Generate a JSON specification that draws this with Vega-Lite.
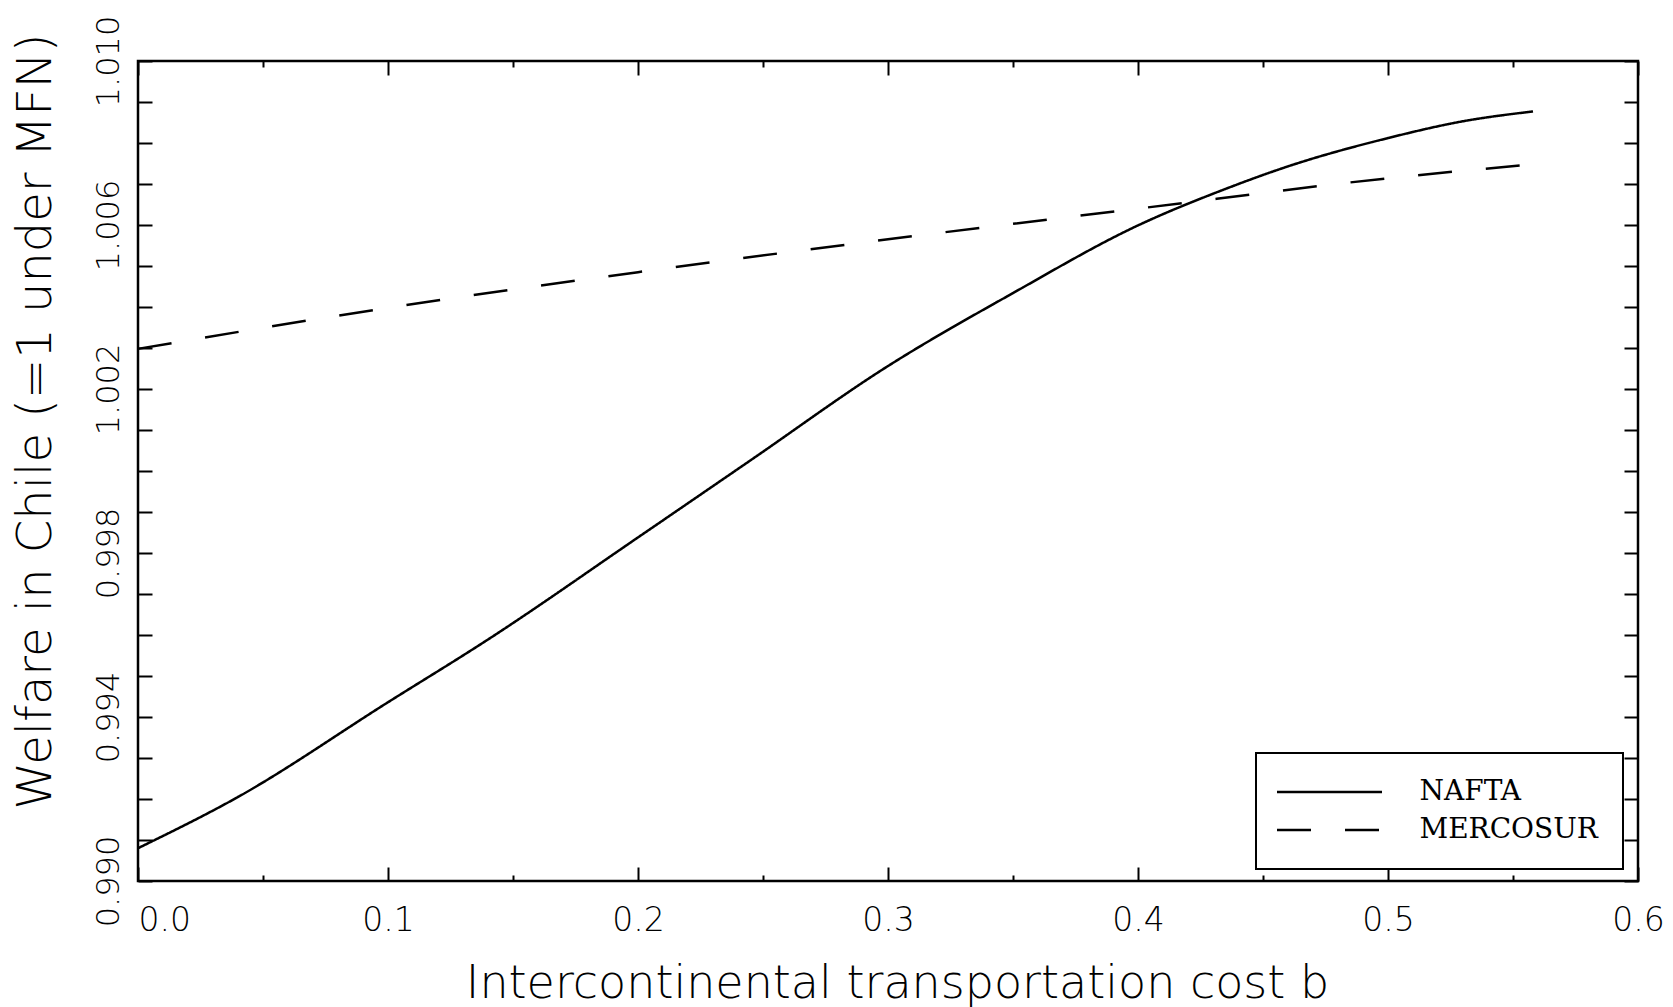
{
  "$schema": "https://vega.github.io/schema/vega-lite/v6.json",
  "width": 1500,
  "height": 820,
  "autosize": "none",
  "padding": {"left": 138, "top": 61, "right": 35, "bottom": 126},
  "background": "white",
  "config": {
    "view": {"stroke": "black", "strokeWidth": 2.5},
    "font": "DejaVu Sans",
    "axis": {
      "domain": false,
      "grid": false,
      "tickColor": "black",
      "tickWidth": 2,
      "labelColor": "black",
      "titleColor": "black",
      "labelFont": "DejaVu Sans",
      "titleFont": "DejaVu Sans",
      "labelFontWeight": 200,
      "titleFontWeight": 200,
      "labelOverlap": false,
      "labelBound": false
    }
  },
  "datasets": {
    "curves": [
      {"b": 0.0, "welfare": 0.9908, "agreement": "NAFTA"},
      {"b": 0.04, "welfare": 0.99205, "agreement": "NAFTA"},
      {"b": 0.10, "welfare": 0.99436, "agreement": "NAFTA"},
      {"b": 0.14, "welfare": 0.99589, "agreement": "NAFTA"},
      {"b": 0.20, "welfare": 0.99838, "agreement": "NAFTA"},
      {"b": 0.245, "welfare": 1.00026, "agreement": "NAFTA"},
      {"b": 0.30, "welfare": 1.00256, "agreement": "NAFTA"},
      {"b": 0.35, "welfare": 1.00434, "agreement": "NAFTA"},
      {"b": 0.40, "welfare": 1.00599, "agreement": "NAFTA"},
      {"b": 0.435, "welfare": 1.00688, "agreement": "NAFTA"},
      {"b": 0.46, "welfare": 1.00743, "agreement": "NAFTA"},
      {"b": 0.50, "welfare": 1.00812, "agreement": "NAFTA"},
      {"b": 0.53, "welfare": 1.00853, "agreement": "NAFTA"},
      {"b": 0.558, "welfare": 1.00877, "agreement": "NAFTA"},
      {"b": 0.0, "welfare": 1.00298, "agreement": "MERCOSUR"},
      {"b": 0.10, "welfare": 1.00398, "agreement": "MERCOSUR"},
      {"b": 0.20, "welfare": 1.00485, "agreement": "MERCOSUR"},
      {"b": 0.30, "welfare": 1.00565, "agreement": "MERCOSUR"},
      {"b": 0.40, "welfare": 1.00640, "agreement": "MERCOSUR"},
      {"b": 0.50, "welfare": 1.00714, "agreement": "MERCOSUR"},
      {"b": 0.558, "welfare": 1.00748, "agreement": "MERCOSUR"}
    ]
  },
  "data": {"name": "curves"},
  "layer": [
    {
      "mark": {"type": "line", "strokeWidth": 2.5, "color": "black", "interpolate": "monotone"},
      "encoding": {
        "x": {
          "field": "b",
          "type": "quantitative",
          "scale": {"domain": [0, 0.6], "nice": false, "zero": false},
          "axis": {
            "orient": "bottom",
            "values": [0, 0.05, 0.1, 0.15, 0.2, 0.25, 0.3, 0.35, 0.4, 0.45, 0.5, 0.55, 0.6],
            "format": ".1f",
            "labelExpr": "round(datum.value*20)%2==0 ? datum.label : ''",
            "tickSize": {"condition": {"test": "round(datum.value*20)%2==0", "value": -14}, "value": -6},
            "labelFontSize": 33,
            "labelPadding": 37,
            "labelAlign": {"condition": {"test": "datum.value==0", "value": "left"}, "value": "center"},
            "title": "Intercontinental transportation cost b",
            "titleFontSize": 46,
            "titleX": 759,
            "titleY": 116,
            "titleAlign": "center",
            "titleBaseline": "alphabetic"
          }
        },
        "y": {
          "field": "welfare",
          "type": "quantitative",
          "scale": {"domain": [0.99, 1.01], "nice": false, "zero": false},
          "axis": {
            "orient": "left",
            "values": [0.990, 0.991, 0.992, 0.993, 0.994, 0.995, 0.996, 0.997, 0.998, 0.999, 1.000, 1.001, 1.002, 1.003, 1.004, 1.005, 1.006, 1.007, 1.008, 1.009, 1.010],
            "format": ".3f",
            "labelExpr": "round(datum.value*1000)%4==2 ? datum.label : ''",
            "tickSize": -14,
            "labelFontSize": 32,
            "labelAngle": -90,
            "labelAlign": "center",
            "labelBaseline": "alphabetic",
            "labelPadding": 34,
            "title": "Welfare in Chile (=1 under MFN)",
            "titleFontSize": 48,
            "titleAngle": 270,
            "titleX": -88,
            "titleY": 360,
            "titleAlign": "center",
            "titleBaseline": "alphabetic"
          }
        },
        "strokeDash": {
          "field": "agreement",
          "type": "nominal",
          "scale": {"domain": ["NAFTA", "MERCOSUR"], "range": [[1, 0], [34, 34]]},
          "legend": {
            "orient": "none",
            "legendX": 1118,
            "legendY": 692,
            "title": null,
            "symbolType": "M-5,0H5",
            "symbolSize": 441,
            "symbolOffset": 34.5,
            "symbolStrokeWidth": 2.5,
            "symbolStrokeColor": "black",
            "labelFont": "DejaVu Serif",
            "labelFontSize": 28,
            "labelColor": "black",
            "labelOffset": 76,
            "labelLimit": 400,
            "padding": 25,
            "rowPadding": 10,
            "strokeColor": "black",
            "fillColor": "white",
            "encode": {"legend": {"update": {"strokeWidth": {"value": 2}}}}
          }
        }
      }
    },
    {
      "mark": {"type": "line", "opacity": 0},
      "encoding": {
        "x": {
          "field": "b",
          "type": "quantitative",
          "scale": {"domain": [0, 0.6], "nice": false, "zero": false},
          "axis": {
            "orient": "top",
            "values": [0, 0.05, 0.1, 0.15, 0.2, 0.25, 0.3, 0.35, 0.4, 0.45, 0.5, 0.55, 0.6],
            "labels": false,
            "tickSize": {"condition": {"test": "round(datum.value*20)%2==0", "value": -14}, "value": -6},
            "title": null
          }
        },
        "y": {
          "field": "welfare",
          "type": "quantitative",
          "scale": {"domain": [0.99, 1.01], "nice": false, "zero": false},
          "axis": {
            "orient": "right",
            "values": [0.990, 0.991, 0.992, 0.993, 0.994, 0.995, 0.996, 0.997, 0.998, 0.999, 1.000, 1.001, 1.002, 1.003, 1.004, 1.005, 1.006, 1.007, 1.008, 1.009, 1.010],
            "labels": false,
            "tickSize": -14,
            "title": null
          }
        },
        "detail": {"field": "agreement", "type": "nominal"}
      }
    }
  ],
  "resolve": {"axis": {"x": "independent", "y": "independent"}}
}
